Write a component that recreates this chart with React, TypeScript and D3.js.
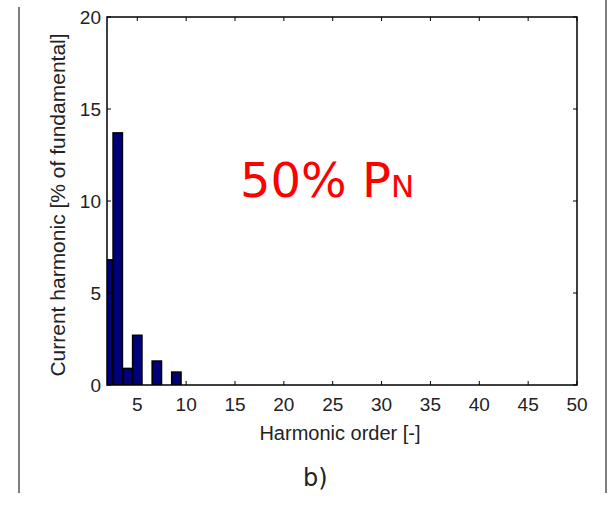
import React from "react";
import * as d3 from "d3";

const harmonicOrders = [2, 3, 4, 5, 7, 9];
const harmonicValues = [6.8, 13.7, 0.9, 2.7, 1.3, 0.7];
const xTicks = [5, 10, 15, 20, 25, 30, 35, 40, 45, 50];
const yTicks = [0, 5, 10, 15, 20];

const W = 613;
const H = 505;
const left = 107;
const right = 577;
const top = 17;
const bottom = 385;

export default function App() {
  const x = d3.scaleLinear().domain([1.9, 50]).range([left, right]);
  const y = d3.scaleLinear().domain([0, 20]).range([bottom, top]);
  const bw = x(2) - x(1.05);
  const font = "'Liberation Sans', Arial, sans-serif";
  return (
    <svg width={W} height={H} style={{ position: "absolute", left: 0, top: 0, background: "#fff" }}>
      <defs>
        <clipPath id="plot">
          <rect x={left} y={top} width={right - left} height={bottom - top} />
        </clipPath>
      </defs>
      <line x1={19} y1={7} x2={19} y2={493} stroke="#555" strokeWidth={1.5} />
      <line x1={606} y1={0} x2={606} y2={493} stroke="#555" strokeWidth={1.5} />
      <g clipPath="url(#plot)">
        {harmonicOrders.map((h, i) => (
          <rect
            key={h}
            x={x(h) - bw / 2}
            y={y(harmonicValues[i])}
            width={bw}
            height={y(0) - y(harmonicValues[i])}
            fill="#00007a"
            stroke="#000"
            strokeWidth={1.6}
          />
        ))}
      </g>
      {xTicks.map((t) => (
        <g key={"x" + t}>
          <line x1={x(t)} x2={x(t)} y1={bottom} y2={bottom - 4} stroke="#000" />
          <line x1={x(t)} x2={x(t)} y1={top} y2={top + 4} stroke="#000" />
          <text x={x(t)} y={411} textAnchor="middle" fontFamily={font} fontSize={19} fill="#222">
            {t}
          </text>
        </g>
      ))}
      {yTicks.map((t) => (
        <g key={"y" + t}>
          <line x1={left} x2={left + 4} y1={y(t)} y2={y(t)} stroke="#000" />
          <line x1={right} x2={right - 4} y1={y(t)} y2={y(t)} stroke="#000" />
          <text x={101} y={y(t)} dy="0.36em" textAnchor="end" fontFamily={font} fontSize={19} fill="#222">
            {t}
          </text>
        </g>
      ))}
      <rect x={left} y={top} width={right - left} height={bottom - top} fill="none" stroke="#000" strokeWidth={1.5} />
      <text x={340} y={440} textAnchor="middle" fontFamily={font} fontSize={20} fill="#222">
        Harmonic order [-]
      </text>
      <text
        transform={`translate(65,${(top + bottom) / 2 + 4}) rotate(-90)`}
        textAnchor="middle"
        fontFamily={font}
        fontSize={21}
        fill="#222"
      >
        Current harmonic [% of fundamental]
      </text>
      <text x={240} y={197} fontFamily="'DejaVu Sans', sans-serif" fontSize={48} fill="#ff0000">
        50% P<tspan fontSize={31}>N</tspan>
      </text>
      <text x={303} y={486} fontFamily="'DejaVu Sans', sans-serif" fontSize={24} fill="#222">
        b)
      </text>
    </svg>
  );
}
